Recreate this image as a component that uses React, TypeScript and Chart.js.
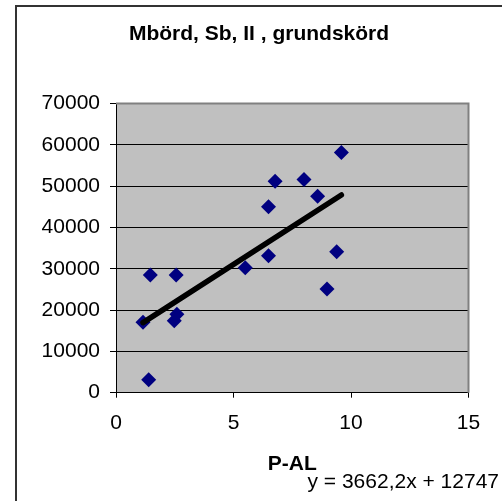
import React, { useEffect, useRef } from "react";
import { Chart, registerables } from "chart.js";

Chart.register(...registerables);

const titleText = "Mbörd, Sb, II , grundskörd";
const xAxisTitle = "P-AL";
const equationText = "y = 3662,2x + 12747";

const pAL = [1.15, 1.39, 1.46, 2.48, 2.59, 2.56, 5.5, 6.49, 6.49, 6.77, 8.0, 8.58, 8.98, 9.39, 9.59];
const mbord = [17030, 3150, 28470, 17420, 18960, 28470, 30240, 45000, 33150, 51210, 51620, 47580, 25090, 34110, 58150];

const trendSlope = 3662.2;
const trendIntercept = 12747;

const xMin = 0, xMax = 15, xStep = 5;
const yMin = 0, yMax = 70000, yStep = 10000;

const FONT = "'Liberation Sans', Arial, sans-serif";

export default function App() {
  const ref = useRef<HTMLCanvasElement | null>(null);

  useEffect(() => {
    if (!ref.current) return;
    const tx0 = Math.min(...pAL);
    const tx1 = Math.max(...pAL);
    const trend = [
      { x: tx0, y: trendSlope * tx0 + trendIntercept },
      { x: tx1, y: trendSlope * tx1 + trendIntercept },
    ];
    const points = pAL.map((x, i) => ({ x, y: mbord[i] }));

    const decor = {
      id: "decor",
      beforeDraw(chart: any) {
        const { ctx, chartArea: a } = chart;
        ctx.save();
        ctx.fillStyle = "#ffffff";
        ctx.fillRect(0, 0, chart.width, chart.height);
        ctx.fillStyle = "#c0c0c0";
        ctx.fillRect(a.left, a.top, a.right - a.left, a.bottom - a.top);
        ctx.strokeStyle = "#333333";
        ctx.lineWidth = 2;
        ctx.beginPath();
        ctx.moveTo(16, chart.height + 5);
        ctx.lineTo(16, 6);
        ctx.lineTo(chart.width + 5, 6);
        ctx.stroke();
        ctx.restore();
      },
      beforeDatasetsDraw(chart: any) {
        const { ctx, chartArea: a } = chart;
        ctx.save();
        ctx.strokeStyle = "#808080";
        ctx.lineWidth = 2;
        ctx.beginPath();
        ctx.moveTo(a.left, a.top);
        ctx.lineTo(a.right, a.top);
        ctx.lineTo(a.right, a.bottom);
        ctx.stroke();
        ctx.restore();
      },
      afterDraw(chart: any) {
        const { ctx } = chart;
        ctx.save();
        ctx.fillStyle = "#000000";
        ctx.textBaseline = "middle";
        ctx.font = `bold 21px ${FONT}`;
        ctx.textAlign = "center";
        ctx.fillText(titleText, 259, 34);
        ctx.font = `21px ${FONT}`;
        ctx.textAlign = "right";
        ctx.fillText(equationText, 499, 482);
        ctx.restore();
      },
    };

    const chart = new Chart(ref.current, {
      type: "scatter",
      data: {
        datasets: [
          {
            type: "line",
            data: trend,
            borderColor: "#000000",
            borderWidth: 5.5,
            borderCapStyle: "round",
            pointRadius: 0,
            showLine: true,
            fill: false,
            order: 0,
          } as any,
          {
            data: points,
            backgroundColor: "#000080",
            borderColor: "#000080",
            borderWidth: 0,
            pointStyle: "rectRot",
            pointRadius: 7.5,
            order: 1,
          },
        ],
      },
      options: {
        responsive: false,
        animation: false,
        devicePixelRatio: 1,
        layout: { padding: { left: 0, right: 33.5, top: 103.5, bottom: 0 } },
        plugins: {
          legend: { display: false },
          tooltip: { enabled: false },
          title: { display: false },
        },
        scales: {
          x: {
            type: "linear",
            min: xMin,
            max: xMax,
            ticks: {
              stepSize: xStep,
              color: "#000000",
              font: { family: FONT, size: 21 },
              padding: 12.5,
              maxRotation: 0,
              callback: (v: any) => String(v),
            },
            grid: {
              drawOnChartArea: false,
              drawTicks: true,
              tickLength: 5,
              color: "#000000",
            },
            border: { color: "#000000", width: 1 },
            title: {
              display: true,
              text: xAxisTitle,
              color: "#000000",
              font: { family: FONT, size: 21, weight: "bold" },
              padding: { top: 0, bottom: 24.4 },
            },
            afterFit(scale: any) {
              scale.height = 108.3;
            },
          },
          y: {
            type: "linear",
            min: yMin,
            max: yMax,
            ticks: {
              stepSize: yStep,
              color: "#000000",
              font: { family: FONT, size: 21 },
              padding: 10,
              callback: (v: any) => String(v),
            },
            grid: {
              drawOnChartArea: true,
              drawTicks: true,
              tickLength: 6,
              color: "#000000",
            },
            border: { color: "#000000", width: 1 },
            afterFit(scale: any) {
              scale.width = 116;
            },
          },
        },
      },
      plugins: [decor],
    });
    return () => chart.destroy();
  }, []);

  return (
    <div style={{ position: "fixed", left: 0, top: 0, width: 502, height: 501 }}>
      <canvas ref={ref} width={502} height={501} style={{ display: "block", width: 502, height: 501 }} />
    </div>
  );
}
